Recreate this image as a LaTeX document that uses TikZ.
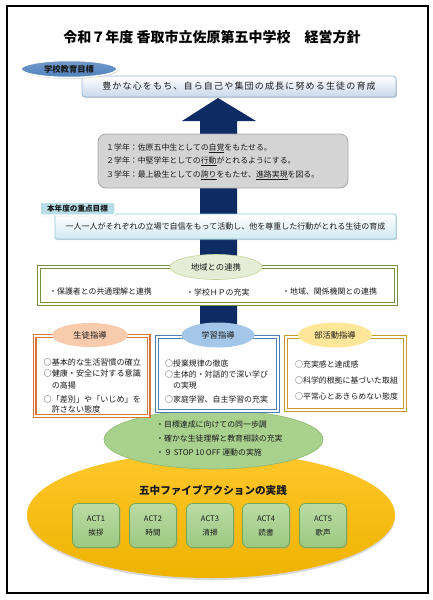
\documentclass[tikz,border=0pt]{standalone}
\usepackage{fontspec}
\setmainfont{Noto Sans CJK JP}
\usetikzlibrary{shapes.geometric,shadows}
\definecolor{navy}{HTML}{0F2B63}
\definecolor{txt}{HTML}{1A1A1A}
\definecolor{greyfill}{HTML}{D4D4D4}
\definecolor{greyline}{HTML}{A6A6A6}
\definecolor{steel}{HTML}{4F81BD}
\definecolor{goalline}{HTML}{9BB4D4}
\definecolor{goalbot}{HTML}{C9D8EA}
\definecolor{cyanline}{HTML}{8EC9DC}
\definecolor{cyanbot}{HTML}{D2EAF2}
\definecolor{cyanlbl}{HTML}{B7DEE8}
\definecolor{grnline}{HTML}{76923C}
\definecolor{grnpale}{HTML}{E5EDD6}
\definecolor{grnpaleline}{HTML}{C3D69B}
\definecolor{orgline}{HTML}{D9773B}
\definecolor{orgfill}{HTML}{F8CBAD}
\definecolor{bluline}{HTML}{4A7EBB}
\definecolor{blufill}{HTML}{A4C6E8}
\definecolor{gldline}{HTML}{C59A2B}
\definecolor{gldfill}{HTML}{FFE699}
\definecolor{leaf}{HTML}{A9D18E}
\definecolor{leafline}{HTML}{8DB86C}
\definecolor{actline}{HTML}{77A556}
\definecolor{acttop}{HTML}{BADBA3}
\definecolor{actbot}{HTML}{9CC982}
\definecolor{sun}{HTML}{FFC000}
\definecolor{suntop}{HTML}{FFC72C}
\definecolor{sunbot}{HTML}{EEB300}
\begin{document}
\begin{tikzpicture}[x=1pt,y=-1pt,
  shad/.style={drop shadow={shadow xshift=1pt,shadow yshift=-1.2pt,fill=black!35}},
  txtline/.style={font=\fontsize{7.9}{9}\selectfont,text=txt,inner sep=0pt,anchor=west},
  lblell/.style={ellipse,inner sep=0pt,font=\fontsize{8.3}{9}\selectfont,text=txt},
  dbl/.style={line width=1.2pt,double=white,double distance=1.6pt,fill=white,inner sep=0pt},
  actbox/.style={rounded corners=6pt,draw=actline,line width=0.8pt,top color=acttop,bottom color=actbot,
     minimum width=47pt,minimum height=44pt,align=center,font=\fontsize{7.6}{14}\selectfont,text=txt,shad}
]
\useasboundingbox (0,0) rectangle (433,600);
\draw[line width=1.3pt] (7,6) rectangle (428,593);

% title
\node[font=\bfseries\fontsize{14}{16}\selectfont,inner sep=0pt] (title) at (212,37)
  {令和７年度 香取市立佐原第五中学校　経営方針};

% big yellow ellipse and green ellipse
\node[ellipse,minimum width=368pt,minimum height=126pt,top color=suntop,bottom color=sunbot,
  drop shadow={shadow xshift=0pt,shadow yshift=-2pt,fill=black!30},inner sep=0pt] (sun) at (211,515) {};
\node[font=\bfseries\fontsize{10.6}{12}\selectfont,text=txt,inner sep=0pt] (practice) at (213,490)
  {五中ファイブアクションの実践};
\node[actbox] (act1) at (96,525.5) {ACT1\\挨拶};
\node[actbox] (act2) at (153,525.5) {ACT2\\時間};
\node[actbox] (act3) at (210,525.5) {ACT3\\清掃};
\node[actbox] (act4) at (266,525.5) {ACT4\\読書};
\node[actbox] (act5) at (323,525.5) {ACT5\\歌声};

\node[ellipse,minimum width=219pt,minimum height=59pt,fill=leaf,draw=leafline,line width=0.6pt,inner sep=0pt] (common) at (213.5,439.5) {};
\node[anchor=west,align=left,font=\fontsize{7.9}{14}\selectfont,text=txt,inner sep=0pt] (commontxt) at (156,439)
  {・目標達成に向けての同一歩調\\・確かな生徒理解と教育相談の充実\\・９ STOP 10 OFF 運動の実施};

% arrow
\fill[navy] (200,330) -- (200,121) -- (182,121) -- (218,98) -- (256,121) -- (237,121) -- (237,330) -- cycle;

% school goal
\node[rounded corners=3pt,draw=goalline,line width=0.8pt,top color=white,bottom color=goalbot,
  minimum width=314pt,minimum height=21pt,inner sep=0pt,shad,
  font=\addfontfeature{LetterSpace=13}\fontsize{9}{10}\selectfont,text=txt] (goal) at (239,86.5)
  {豊かな心をもち、自ら自己や集団の成長に努める生徒の育成};
\node[lblell,minimum width=96pt,minimum height=17pt,top color=steel!80,bottom color=steel,
  draw=white,line width=1.5pt,shad,font=\bfseries\fontsize{8.3}{9}\selectfont] (goallbl) at (69,69) {学校教育目標};

% grades box
\node[rounded corners=8pt,fill=greyfill,draw=greyline,line width=0.8pt,minimum width=250pt,minimum height=54pt,inner sep=0pt] (grades) at (223,161) {};
\node[anchor=west,align=left,font=\fontsize{7.9}{13.5}\selectfont,text=txt,inner sep=0pt] (gradetxt) at (106,161.5)
  {１学年：佐原五中生としての\underline{自覚}をもたせる。\\
   ２学年：中堅学年としての\underline{行動}がとれるようにする。\\
   ３学年：最上級生としての\underline{誇り}をもたせ、\underline{進路実現}を図る。};

% focus goal
\node[rounded corners=2pt,draw=cyanline,line width=0.8pt,top color=white,bottom color=cyanbot,
  minimum width=341pt,minimum height=25pt,inner sep=0pt,font=\fontsize{8}{9}\selectfont,text=txt,shad] (focus) at (225.5,226.5)
  {一人一人がそれぞれの立場で自信をもって活動し、他を尊重した行動がとれる生徒の育成};
\node[rounded corners=1.5pt,fill=cyanlbl,draw=white,line width=1.5pt,minimum width=75pt,minimum height=13pt,inner sep=0pt,
  font=\bfseries\fontsize{7.6}{9}\selectfont,text=txt,shad] (focuslbl) at (77.5,208.5) {本年度の重点目標};

% community
\node[dbl,draw=grnline,minimum width=357pt,minimum height=37pt] (community) at (217.5,285.5) {};
\node[lblell,minimum width=92pt,minimum height=25pt,fill=grnpale,draw=grnpaleline,line width=0.6pt] (commlbl) at (216,267) {地域との連携};
\node[txtline] (c1) at (49,292) {・保護者との共通理解と連携};
\node[txtline] (c2) at (186,292) {・学校ＨＰの充実};
\node[txtline] (c3) at (282,292) {・地域、関係機関との連携};

% three guidance boxes
\node[dbl,draw=orgline,minimum width=114pt,minimum height=80pt] (seito) at (91.5,376) {};
\node[dbl,draw=bluline,minimum width=121pt,minimum height=74pt] (gakushu) at (217.5,374) {};
\node[dbl,draw=gldline,minimum width=119pt,minimum height=73pt] (bukatsu) at (345.5,373.5) {};
\node[lblell,minimum width=76pt,minimum height=24pt,fill=orgfill] (seitolbl) at (90,335) {生徒指導};
\node[lblell,minimum width=73pt,minimum height=25pt,fill=blufill] (gakushulbl) at (218,335) {学習指導};
\node[lblell,minimum width=74pt,minimum height=25pt,fill=gldfill] (bukatsulbl) at (335,335) {部活動指導};

\node[txtline,font=\fontsize{8.1}{9}\selectfont] (l1) at (43.5,362.7) {○基本的な生活習慣の確立};
\node[txtline,font=\fontsize{8.1}{9}\selectfont] (l2) at (43.5,373.3) {○健康・安全に対する意識};
\node[txtline,font=\fontsize{8.1}{9}\selectfont] (l3) at (43.5,385) {　の高揚};
\node[txtline,font=\fontsize{8.1}{9}\selectfont] (l4) at (43.5,399) {○「差別」や「いじめ」を};
\node[txtline,font=\fontsize{8.1}{9}\selectfont] (l5) at (43.5,409.3) {　許さない態度};

\node[txtline] (m1) at (165,363.3) {○授業規律の徹底};
\node[txtline] (m2) at (165,374.3) {○主体的・対話的で深い学び};
\node[txtline] (m3) at (165,385.7) {　の実現};
\node[txtline] (m4) at (165,399) {○家庭学習、自主学習の充実};

\node[txtline] (r1) at (295,364) {○充実感と達成感};
\node[txtline] (r2) at (295,380.7) {○科学的根拠に基づいた取組};
\node[txtline] (r3) at (295,396) {○平常心とあきらめない態度};
\end{tikzpicture}
\end{document}
